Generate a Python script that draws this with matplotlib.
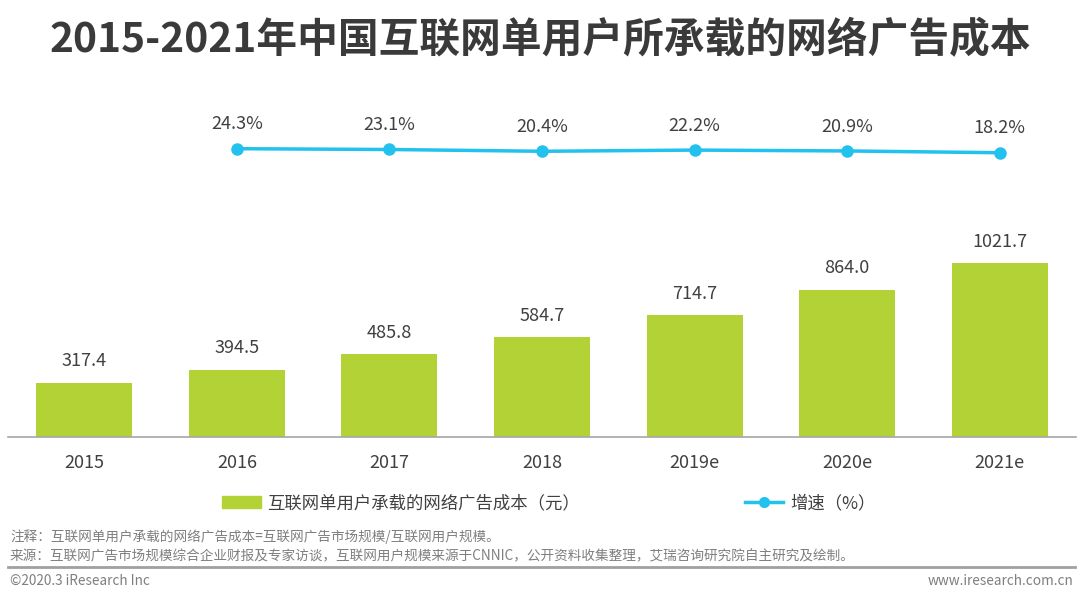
import numpy as np
import matplotlib.pyplot as plt
from matplotlib.lines import Line2D
from matplotlib.patches import Patch

plt.rcParams['font.family'] = ['Noto Sans CJK SC', 'DejaVu Sans']

years = ['2015', '2016', '2017', '2018', '2019e', '2020e', '2021e']
cost = [317.4, 394.5, 485.8, 584.7, 714.7, 864.0, 1021.7]
growth_years = ['2016', '2017', '2018', '2019e', '2020e', '2021e']
growth = [24.3, 23.1, 20.4, 22.2, 20.9, 18.2]

bar_color = '#b2d235'
line_color = '#22c1ee'
text_color = '#404040'

fig = plt.figure(figsize=(10.8, 5.97), dpi=100)
W, H = 1080, 597
# axes: x 8..1076 px, y 100..437 px (from top)
ax = fig.add_axes([8 / W, (H - 437) / H, 1068 / W, 337 / H])
x = np.arange(len(years))
ax.bar(x, cost, width=0.63, color=bar_color, zorder=2)
ax.set_xlim(-0.5, 6.5)
ax.set_ylim(0, 1979)
for xi, v in zip(x, cost):
    ax.annotate(f'{v:.1f}', (xi, v), xytext=(0, 9), textcoords='offset points',
                ha='center', va='bottom', fontsize=13, color=text_color)
ax.set_xticks(x)
ax.set_xticklabels(years, fontsize=13, color=text_color)
ax.tick_params(axis='x', length=0, pad=12)
ax.set_yticks([])
for s in ['top', 'left', 'right']:
    ax.spines[s].set_visible(False)
ax.spines['bottom'].set_color('#a6a6a6')
ax.spines['bottom'].set_linewidth(1.2)

ax2 = ax.twinx()
gx = [years.index(g) for g in growth_years]
ax2.plot(gx, growth, color=line_color, lw=2.5, marker='o', markersize=8, zorder=3)
ax2.set_ylim(-412, 98)
ax2.set_yticks([])
for s in ['top', 'left', 'right', 'bottom']:
    ax2.spines[s].set_visible(False)
for xi, v in zip(gx, growth):
    ax2.annotate(f'{v:.1f}%', (xi, v), xytext=(0, 11), textcoords='offset points',
                 ha='center', va='bottom', fontsize=13, color=text_color)

fig.text(0.5, 1 - 41 / H, '2015-2021年中国互联网单用户所承载的网络广告成本',
         ha='center', va='center', fontsize=29.3, fontweight='bold', color='#3a3a3a')

handles = [Patch(color=bar_color),
           Line2D([0], [0], color=line_color, lw=2.5, marker='o', markersize=7)]
labels = ['互联网单用户承载的网络广告成本（元）', '增速（%）']
fig.legend(handles, labels, ncol=2, loc='center', bbox_to_anchor=(549 / W, 1 - 503 / H),
           frameon=False, fontsize=12.5, columnspacing=9.5, handlelength=2.2,
           handletextpad=0.4, labelcolor=text_color)

fig.text(10 / W, 1 - 537 / H, '注释：互联网单用户承载的网络广告成本=互联网广告市场规模/互联网用户规模。',
         fontsize=9.8, color='#7f7f7f', va='center')
fig.text(10 / W, 1 - 556 / H,
         '来源：互联网广告市场规模综合企业财报及专家访谈，互联网用户规模来源于CNNIC，公开资料收集整理，艾瑞咨询研究院自主研究及绘制。',
         fontsize=9.8, color='#7f7f7f', va='center')
fig.add_artist(Line2D([8 / W, 1075 / W], [1 - 567 / H, 1 - 567 / H], color='#a0a0a0', lw=2))
fig.text(10 / W, 1 - 581 / H, '©2020.3 iResearch Inc', fontsize=9.8, color='#7f7f7f', va='center')
fig.text(1073 / W, 1 - 581 / H, 'www.iresearch.com.cn', fontsize=9.8, color='#7f7f7f',
         va='center', ha='right')

fig.savefig('out.png', dpi=100)
